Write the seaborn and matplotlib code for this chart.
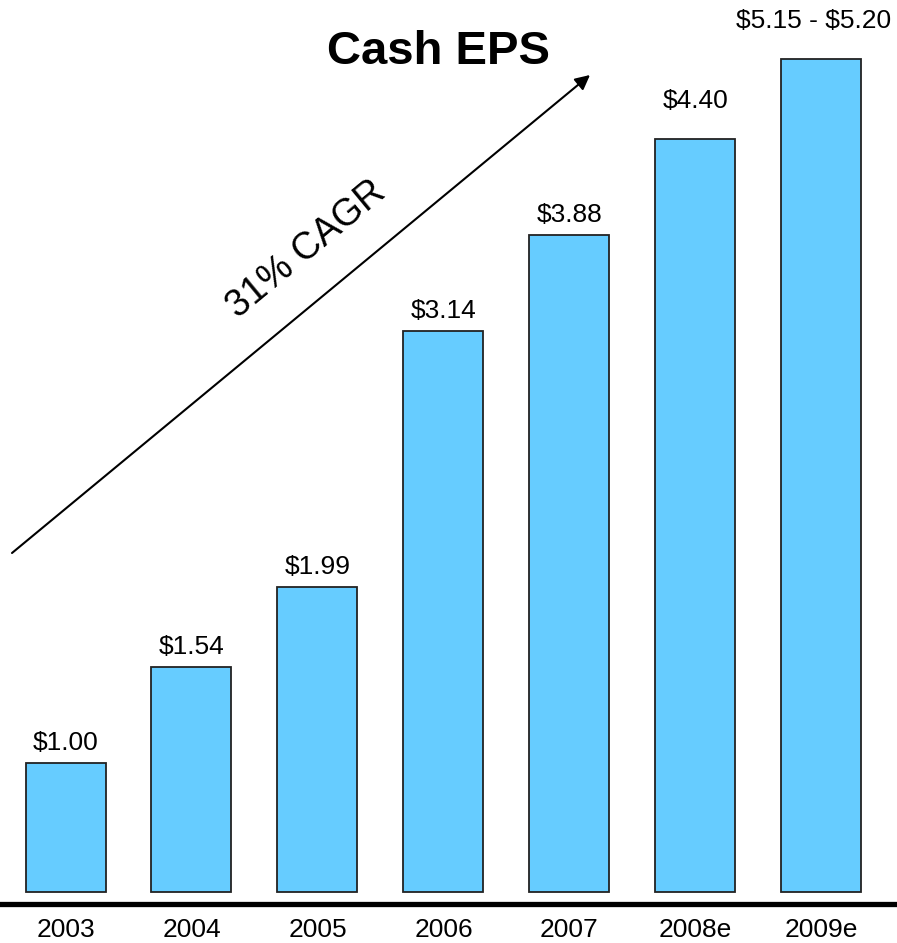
import matplotlib
matplotlib.use("Agg")
import matplotlib.pyplot as plt
import seaborn as sns
import pandas as pd

# dados
anos = ["2003", "2004", "2005", "2006", "2007", "2008e", "2009e"]
altura_barras = [129, 225, 305, 561, 657, 753, 833]  # altura desenhada (grafico fora de escala)
rotulos = ["$1.00", "$1.54", "$1.99", "$3.14", "$3.88", "$4.40", "$5.15 - $5.20"]
estimado = [False, False, False, False, False, True, True]

base = pd.DataFrame({"ano": anos, "altura": altura_barras})

sns.set_style("white")
plt.rcParams["font.family"] = ["Liberation Sans", "DejaVu Sans"]
plt.rcParams["text.color"] = "black"
plt.rcParams["xtick.color"] = "black"
plt.rcParams["xtick.labelcolor"] = "black"

fig = plt.figure(figsize=(8.97, 9.43), dpi=100)
ax = fig.add_axes([0, 39 / 943, 1, 904 / 943])

sns.barplot(data=base, x="ano", y="altura", color="#66CCFF", saturation=1,
            edgecolor="#222222", linewidth=1.3, width=0.635, ax=ax)

ax.set_xlim(-0.52, 6.60)
ax.set_ylim(-12, 892)
ax.set_xlabel("")
ax.set_ylabel("")
ax.set_yticks([])
ax.tick_params(axis="x", length=0, labelsize=19, pad=10)
for lado in ["top", "left", "right"]:
    ax.spines[lado].set_visible(False)
ax.spines["bottom"].set_linewidth(3.8)
ax.spines["bottom"].set_color("black")

# rotulos de valor
barras = ax.containers[0]
ax.bar_label(barras, labels=[r.replace("$", r"\$") if not e else "" for r, e in zip(rotulos, estimado)],
             padding=6, fontsize=19)
rot_est = ax.bar_label(barras, labels=[r.replace("$", r"\$") if e else "" for r, e in zip(rotulos, estimado)],
                       padding=19, fontsize=19)
# ultimo rotulo encostado na borda direita
rot_est[-1].xyann = (-6, 19)

# titulo
fig.text(438 / 897, 1 - 52 / 943, "Cash EPS", ha="center", va="center",
         fontsize=34, fontweight="bold")

# seta de crescimento
ax.annotate("", xy=(590, 943 - 75), xytext=(12, 943 - 553),
            xycoords="figure pixels", textcoords="figure pixels",
            arrowprops=dict(arrowstyle="-|>", color="black", lw=1.5,
                            mutation_scale=22, shrinkA=0, shrinkB=0))
fig.text(306 / 897, 1 - 250 / 943, "31% CAGR", ha="center", va="center",
         rotation=39.6, rotation_mode="anchor", fontsize=27)

fig.savefig("out.png", dpi=100)
